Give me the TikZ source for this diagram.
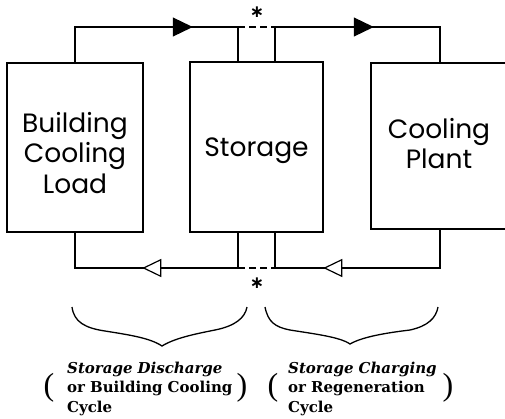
\documentclass[tikz,border=0pt]{standalone}
\usepackage{fontspec}
\setmainfont{DejaVu Serif}
\newfontfamily\boxfont{Poppins}
\newfontfamily\starfont{DejaVu Sans}
\newfontfamily\parenfont{Liberation Serif}
\usetikzlibrary{arrows.meta,decorations.markings,calc}
\tikzset{
  blockbox/.style={draw=black, line width=1.5pt, minimum width=#1, minimum height=170pt, inner sep=0pt},
  blocktext/.style={font=\boxfont\fontsize{26.5}{30.5}\selectfont, text width=150pt, align=center, anchor=base, inner sep=0pt},
  flowline/.style={draw=black, line width=1.2pt},
  gapline/.style={draw=black, line width=1.2pt, dash pattern=on 7pt off 4pt},
  fwdarrow/.style={postaction={decorate, decoration={markings, mark=at position #1 with {\arrow{Triangle[length=20pt,width=19pt]}}}}},
  retarrow/.style={postaction={decorate, decoration={markings, mark=at position #1 with {\arrow{Triangle[open,length=19pt,width=18pt,line width=1.2pt,fill=white]}}}}},
  bracestyle/.style={draw=black, line width=1.3pt},
  captext/.style={font=\bfseries\fontsize{15}{19.5}\selectfont, text width=220pt, align=left, anchor=base west, inner sep=0pt},
  paren/.style={font=\parenfont\fontsize{32}{32}\selectfont, inner sep=0pt},
  star/.style={font=\starfont\bfseries\fontsize{17}{17}\selectfont, inner sep=0pt}
}
\begin{document}
\begin{tikzpicture}[x=1pt,y=-1pt]
\path[use as bounding box] (0,0) rectangle (505,418);
\clip (0,0) rectangle (505,418);
% blocks
\node[blockbox=136pt, minimum height=169pt] (bcl) at (75,147.5) {};
\node[blockbox=133pt] (sto) at (256.5,147) {};
\node[blockbox=138pt, minimum height=166pt] (cp) at (440,146) {};
\node[blocktext] (bcltext) at (75,132) {Building\\Cooling\\Load};
\node[blocktext] (stotext) at (256.5,156) {Storage};
\node[blocktext] (cptext) at (439,138) {Cooling\\Plant};
% helper coordinates
\coordinate (s1t) at ([xshift=-18.5pt]sto.north);
\coordinate (s2t) at ([xshift=18.5pt]sto.north);
\coordinate (s1b) at ([xshift=-18.5pt]sto.south);
\coordinate (s2b) at ([xshift=18.5pt]sto.south);
\coordinate (ytop) at (0,27);
\coordinate (ybot) at (0,268);
% loops
\draw[flowline, fwdarrow=153pt] (bcl.north) -- (bcl.north |- ytop) -- (s1t |- ytop) -- (s1t);
\draw[flowline, fwdarrow=133pt] (s2t) -- (s2t |- ytop) -- (cp.north |- ytop) -- (cp.north);
\draw[flowline, retarrow=131pt] (s1b) -- (s1b |- ybot) -- (bcl.south |- ybot) -- (bcl.south);
\draw[flowline, retarrow=155pt] (cp.south) -- (cp.south |- ybot) -- (s2b |- ybot) -- (s2b);
\draw[gapline] (s1t |- ytop) -- (s2t |- ytop);
\draw[gapline] (s1b |- ybot) -- (s2b |- ybot);
\node[star] (startop) at (257,12) {∗};
\node[star] (starbot) at (257,283) {∗};
% braces
\draw[bracestyle] (72,307) .. controls (74,322) and (85,328) .. (105,331) .. controls (130,335) and (150,338) .. (162,346) .. controls (175,338) and (195,334) .. (215,330) .. controls (235,326) and (245,318) .. (247,307);
\draw[bracestyle] (265,307) .. controls (268,322) and (275,327) .. (290,330) .. controls (315,334) and (340,337) .. (350,344) .. controls (362,337) and (385,333) .. (410,330) .. controls (428,326) and (436,318) .. (438,307);
% captions
\node[captext] (capl) at (67,373) {\textit{Storage Discharge}\\or Building Cooling\\Cycle};
\node[captext] (capr) at (288,373) {\textit{Storage Charging}\\or Regeneration\\Cycle};
\node[paren] (lpl) at (49,388) {(};
\node[paren] (rpl) at (242,388) {)};
\node[paren] (lpr) at (273,388) {(};
\node[paren] (rpr) at (448,388) {)};
\end{tikzpicture}
\end{document}
